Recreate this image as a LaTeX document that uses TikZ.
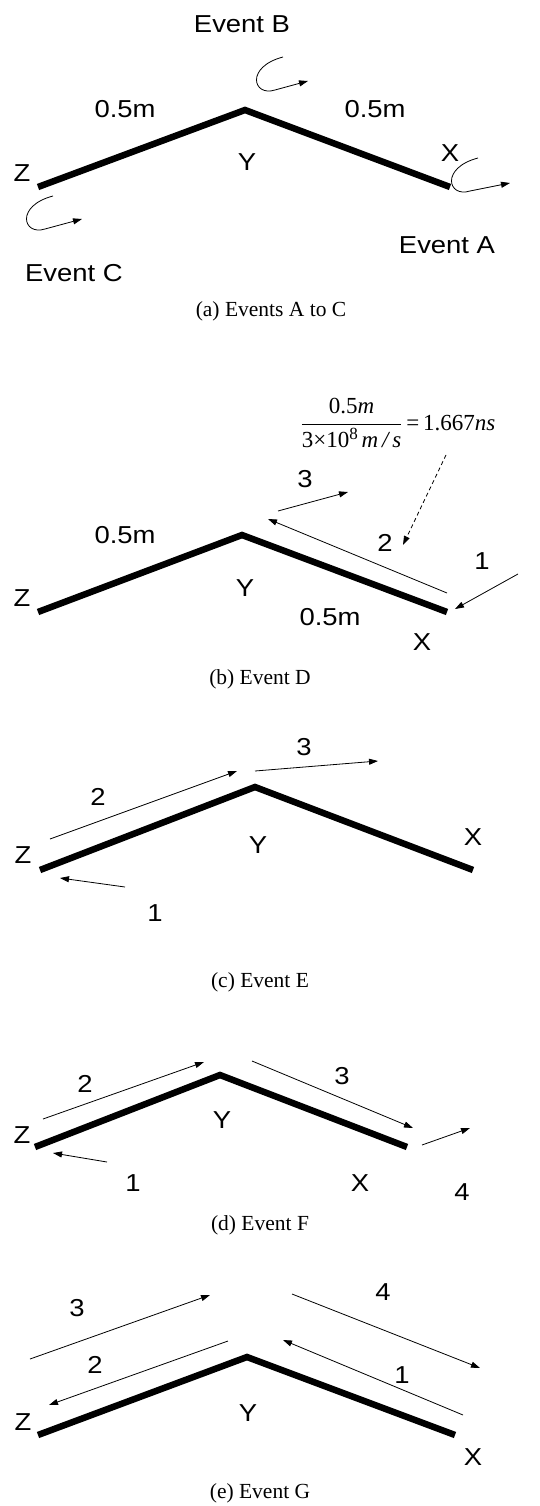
\documentclass[tikz,border=0pt]{standalone}
\usepackage{fontspec}
\setmainfont{Liberation Serif}
\newfontfamily\arialf[FakeStretch=1.12]{Liberation Sans}
\usetikzlibrary{arrows.meta}
\tikzset{
  lab/.style={font=\arialf\fontsize{24.5}{29}\selectfont, inner sep=0pt},
  captext/.style={font=\fontsize{21.5}{26}\selectfont, inner sep=0pt},
  wire/.style={line width=6.5pt, line join=miter},
  arr/.style={line width=0.8pt, -{Triangle[length=9pt,width=6pt]}},
  darr/.style={arr, dash pattern=on 4pt off 3pt}
}
\begin{document}
\begin{tikzpicture}[x=1pt,y=-1pt]
\useasboundingbox (0,0) rectangle (540,1506);
% ---------- (a)
\coordinate (aZ) at (38,187); \coordinate (aY) at (245,110); \coordinate (aX) at (450,187);
\draw[wire] (aZ) -- (aY) -- (aX);
\node[lab] (aZl) at (22,173) {Z};
\node[lab] (aYl) at (247,162) {Y};
\node[lab] (aXl) at (450,153) {X};
\node[lab] (aL) at (125,109) {0.5m};
\node[lab] (aR) at (375,109) {0.5m};
\node[lab] (evB) at (242,24) {Event B};
\node[lab] (evA) at (447,245) {Event A};
\node[lab] (evC) at (74,273) {Event C};
\node[captext] (capa) at (271,311) {(a) Events A to C};
\begin{scope}[shift={(283,57)}]
\draw[arr] (0,0) .. controls (-38,10) and (-30,40) .. (-8,33) -- (25,24);
\end{scope}
\begin{scope}[shift={(478,158)}]
\draw[arr] (0,0) .. controls (-38,10) and (-30,40) .. (-8,33) -- (32,25);
\end{scope}
\begin{scope}[shift={(53,196)}]
\draw[arr] (0,0) .. controls (-38,10) and (-30,40) .. (-8,33) -- (29,23);
\end{scope}
% ---------- (b)
\coordinate (bZ) at (38,612); \coordinate (bY) at (242,535); \coordinate (bX) at (447,612);
\draw[wire] (bZ) -- (bY) -- (bX);
\node[lab] (bZl) at (22,598) {Z};
\node[lab] (bYl) at (245,588) {Y};
\node[lab] (bXl) at (422,642) {X};
\node[lab] (bL) at (125,535) {0.5m};
\node[lab] (bR) at (330,617) {0.5m};
\node[captext] (capb) at (260,679) {(b) Event D};
\coordinate (b2s) at (447,593); \coordinate (b2e) at (268,519);
\coordinate (b3s) at (278,511); \coordinate (b3e) at (348,492);
\coordinate (b1s) at (518,574); \coordinate (b1e) at (455,609);
\coordinate (bds) at (446,455); \coordinate (bde) at (403,545);
\draw[arr] (b2s) -- (b2e);
\draw[arr] (b3s) -- (b3e);
\draw[arr] (b1s) -- (b1e);
\draw[darr] (bds) -- (bde);
\node[lab] (b2l) at (385,543) {2};
\node[lab] (b3l) at (305,479) {3};
\node[lab] (b1l) at (482,561) {1};
\node[inner sep=0pt, font=\fontsize{23}{27}\selectfont] (frm) at (398,423)
  {$\displaystyle\frac{\mbox{0.5\textit{m}}}{\mbox{3×10\raisebox{8pt}{\fontsize{17}{17}\selectfont 8}\,\textit{m\,/\,s}}}$\,=\,1.667\textit{ns}};
% ---------- (c)
\coordinate (cZ) at (40,870); \coordinate (cY) at (255,787); \coordinate (cX) at (473,870);
\draw[wire] (cZ) -- (cY) -- (cX);
\node[lab] (cZl) at (23,855) {Z};
\node[lab] (cYl) at (258,845) {Y};
\node[lab] (cXl) at (473,837) {X};
\coordinate (c2s) at (50,839); \coordinate (c2e) at (237,771);
\coordinate (c3s) at (255,771); \coordinate (c3e) at (378,761);
\coordinate (c1s) at (125,887); \coordinate (c1e) at (60,878);
\draw[arr] (c2s) -- (c2e);
\draw[arr] (c3s) -- (c3e);
\draw[arr] (c1s) -- (c1e);
\node[lab] (c2l) at (98,797) {2};
\node[lab] (c3l) at (304,747) {3};
\node[lab] (c1l) at (155,913) {1};
\node[captext] (capc) at (260,982) {(c) Event E};
% ---------- (d)
\coordinate (dZ) at (35,1147); \coordinate (dY) at (220,1075); \coordinate (dX) at (407,1147);
\draw[wire] (dZ) -- (dY) -- (dX);
\node[lab] (dZl) at (22,1135) {Z};
\node[lab] (dYl) at (222,1120) {Y};
\node[lab] (dXl) at (360,1183) {X};
\coordinate (d2s) at (43,1119); \coordinate (d2e) at (204,1062);
\coordinate (d3s) at (252,1061); \coordinate (d3e) at (413,1128);
\coordinate (d4s) at (422,1145); \coordinate (d4e) at (470,1128);
\coordinate (d1s) at (107,1162); \coordinate (d1e) at (53,1153);
\draw[arr] (d2s) -- (d2e);
\draw[arr] (d3s) -- (d3e);
\draw[arr] (d4s) -- (d4e);
\draw[arr] (d1s) -- (d1e);
\node[lab] (d2l) at (85,1084) {2};
\node[lab] (d3l) at (342,1076) {3};
\node[lab] (d4l) at (462,1192) {4};
\node[lab] (d1l) at (133,1183) {1};
\node[captext] (capd) at (260,1225) {(d) Event F};
% ---------- (e)
\coordinate (eZ) at (38,1435); \coordinate (eY) at (247,1357); \coordinate (eX) at (455,1435);
\draw[wire] (eZ) -- (eY) -- (eX);
\node[lab] (eZl) at (23,1422) {Z};
\node[lab] (eYl) at (248,1413) {Y};
\node[lab] (eXl) at (473,1457) {X};
\coordinate (e3s) at (30,1359); \coordinate (e3e) at (210,1295);
\coordinate (e2s) at (228,1341); \coordinate (e2e) at (49,1405);
\coordinate (e4s) at (292,1294); \coordinate (e4e) at (480,1368);
\coordinate (e1s) at (463,1415); \coordinate (e1e) at (283,1340);
\draw[arr] (e3s) -- (e3e);
\draw[arr] (e2s) -- (e2e);
\draw[arr] (e4s) -- (e4e);
\draw[arr] (e1s) -- (e1e);
\node[lab] (e3l) at (77,1308) {3};
\node[lab] (e2l) at (95,1365) {2};
\node[lab] (e4l) at (383,1292) {4};
\node[lab] (e1l) at (402,1375) {1};
\node[captext] (cape) at (260,1493) {(e) Event G};
\end{tikzpicture}
\end{document}
